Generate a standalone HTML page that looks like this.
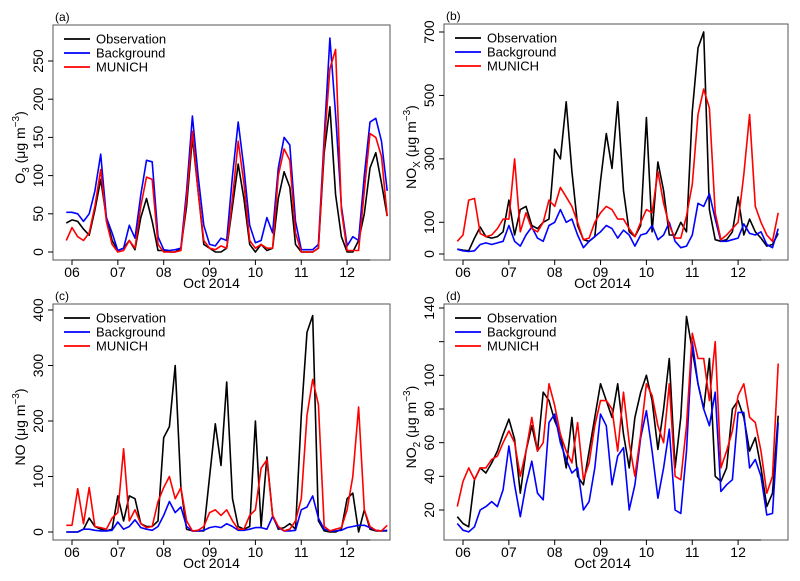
<!DOCTYPE html>
<html><head><meta charset="utf-8">
<style>
body{margin:0;background:#fff;}
svg{display:block;font-family:"Liberation Sans",Arial,sans-serif;}
</style></head>
<body>
<svg id="fig" width="800" height="581" viewBox="0 0 800 581" xmlns="http://www.w3.org/2000/svg"></svg>
<script>
// time: 5.875 + i*0.125 days (3-hourly)
const t0 = 5.875, dt = 0.125;
const dayTicks = [6,7,8,9,10,11,12];
const dayLabels = ["06","07","08","09","10","11","12"];
const seriesNames = ["Observation","Background","MUNICH"];

const o3Obs = [38, 42,40,30,22,55,95,45,15, 2,5,15,3,45,70,40,2, 2,0,0,5,60,150,80,10, 5,0,0,5,60,115,70,10, 0,10,2,5,70,105,85,10, 0,0,0,5,130,190,75,20, 0,0,15,50,110,130,90,47];
const o3Bg  = [52, 52,50,40,50,80,128,45,25, 2,5,35,18,75,120,118,20, 3,2,3,5,80,178,100,35, 10,8,18,15,100,170,110,35, 12,15,45,25,110,150,140,40, 3,3,3,10,150,280,180,60, 8,20,15,100,170,175,145,80];
const o3Mu  = [15, 32,20,15,25,60,108,40,10, 0,2,15,5,60,98,95,10, 0,0,0,2,70,158,80,15, 5,3,8,5,70,145,90,15, 5,10,5,5,100,135,120,25, 0,0,0,5,140,240,265,55, 2,2,2,80,155,150,125,47];

const noxObs = [15, 12,10,50,85,55,50,55,70, 170,60,140,150,90,80,100,110, 330,300,480,260,90,45,40,55, 230,380,270,480,200,70,55,90, 430,70,290,200,60,60,100,70, 450,650,700,140,45,40,45,70, 180,60,110,70,50,25,30,65];
const noxBg  = [15, 10,8,10,30,35,30,35,40, 90,40,25,60,85,50,40,90, 100,140,100,110,60,20,40,55, 70,90,80,50,75,60,25,60, 65,90,45,60,100,40,20,25, 60,160,150,190,110,40,40,45, 50,95,65,60,70,30,20,80];
const noxMu  = [40, 60,170,175,65,55,60,80,110, 110,300,70,130,80,70,100,170, 150,210,180,150,100,45,50,100, 130,150,140,110,110,80,55,100, 140,130,260,160,90,50,50,120, 220,440,520,460,130,45,60,80, 100,250,440,150,100,60,40,130];

const noObs = [0, 0,0,5,25,10,5,2,5, 65,20,65,60,15,10,10,20, 170,190,300,80,5,2,2,2, 100,195,120,270,60,10,5,10, 200,10,135,30,5,8,15,5, 210,360,390,20,2,0,0,5, 60,70,0,40,5,2,2,2];
const noBg  = [0, 0,0,5,5,3,2,2,3, 18,5,10,22,8,5,3,10, 30,55,35,45,10,2,2,3, 8,10,8,15,10,3,3,5, 8,8,5,28,8,2,2,3, 40,45,65,25,5,2,2,3, 8,10,12,12,8,3,2,3];
const noMu  = [12, 12,78,15,80,10,8,5,25, 35,150,20,40,15,8,10,55, 80,100,60,80,20,2,3,10, 35,40,30,40,20,5,5,30, 40,115,130,30,10,2,5,20, 60,210,275,230,10,2,5,8, 40,100,225,40,10,3,2,12];

const no2Obs = [16, 12,10,38,45,42,48,55,65, 74,62,30,55,70,55,90,85, 73,65,45,75,40,35,55,75, 95,85,75,95,65,45,75,90, 100,85,56,80,110,45,75,135, 115,95,80,110,40,37,45,80, 85,75,55,63,45,22,30,76];
const no2Bg  = [12, 8,7,10,20,22,25,22,32, 58,35,16,35,49,30,26,72, 77,60,50,42,45,20,25,45, 77,70,35,52,57,20,35,63, 79,55,27,45,68,20,18,55, 120,95,80,70,90,31,35,38, 78,78,45,50,40,17,18,72];
const no2Mu  = [22, 37,45,38,45,45,50,52,60, 67,60,40,55,75,55,60,95, 82,65,55,48,72,38,48,70, 85,85,80,55,90,60,40,65, 95,88,70,60,95,40,38,70, 125,110,110,85,120,45,55,67, 88,95,75,72,55,30,40,107];

const NS = "http://www.w3.org/2000/svg";
const svg = document.getElementById("fig");
function el(tag, attrs, parent){
  const e = document.createElementNS(NS, tag);
  for (const k in attrs) e.setAttribute(k, attrs[k]);
  (parent||svg).appendChild(e);
  return e;
}
const colors = ["#000000","#0000ff","#ff0000"];

const panels = [
  {id:"a", box:[53,25,390,260], x6:72, yMin:0, yMax:250, y0px:252, y1px:61, ticks:[0,50,100,150,200,250], labels:[0,50,100,150,200,250], sp:"O", sub:"3", data:[o3Obs,o3Bg,o3Mu]},
  {id:"b", box:[444,24,788,260], x6:463, yMin:0, yMax:700, y0px:254, y1px:32, ticks:[0,100,300,500,700], labels:[0,100,300,500,700], sp:"NO", sub:"X", data:[noxObs,noxBg,noxMu]},
  {id:"c", box:[53,304,390,540], x6:72, yMin:0, yMax:400, y0px:532, y1px:310, ticks:[0,100,200,300,400], labels:[0,100,200,300,400], sp:"NO", sub:"", data:[noObs,noBg,noMu]},
  {id:"d", box:[444,304,788,540], x6:463, yMin:20, yMax:140, y0px:510, y1px:308, ticks:[20,40,60,80,100,120,140], labels:[20,40,60,80,100,null,140], sp:"NO", sub:"2", data:[no2Obs,no2Bg,no2Mu]}
];
const dayPx = 45.85;

panels.forEach(p => {
  const g = el("g", {});
  
  
  const [L,T,R,B] = p.box;
  const xs = d => p.x6 + (d - 6) * dayPx;
  const ys = v => p.y0px + (v - p.yMin) * (p.y1px - p.y0px) / (p.yMax - p.yMin);

  // series
  const order = [0,1,2];
  order.forEach(si => {
    const arr = p.data[si];
    let d = "";
    arr.forEach((v,i) => { d += (i ? "L" : "M") + xs(t0 + i*dt).toFixed(1) + "," + ys(v).toFixed(1); });
    const path = el("path", {d:d, fill:"none", stroke:colors[si], "stroke-width":"1.6", "stroke-linejoin":"round"}, g);
    
    
  });

  const box = el("rect", {x:L, y:T, width:R-L, height:B-T, fill:"none", stroke:"#555", "stroke-width":"1"}, g);
  
  

  const pl = el("text", {x:L+2, y:T-4, "font-size":"12", fill:"#000"}, g);
  pl.textContent = "(" + p.id + ")";
  
  

  // x axis
  const xa = el("g", {}, g);
  
  
  el("line", {x1:xs(6), x2:xs(12.5), y1:B, y2:B, stroke:"#000"}, xa);
  dayTicks.forEach((d,i) => {
    el("line", {x1:xs(d), x2:xs(d), y1:B, y2:B+5, stroke:"#000"}, xa);
    const tl = el("text", {x:xs(d), y:B+17, "font-size":"14", "text-anchor":"middle"}, xa);
    tl.textContent = dayLabels[i];
    
    
  });
  const xt = el("text", {x:(xs(6)+xs(12))/2 + 2, y:B+28, "font-size":"14", "text-anchor":"middle"}, g);
  xt.textContent = "Oct 2014";
  
  

  // y axis
  const ya = el("g", {}, g);
  
  
  p.ticks.forEach((v,i) => {
    el("line", {x1:L-5, x2:L, y1:ys(v), y2:ys(v), stroke:"#000"}, ya);
    if (p.labels[i] !== null) {
      const tx = L - 10, ty = ys(v);
      const tl = el("text", {x:tx, y:ty, "font-size":"14", "text-anchor":"middle", transform:"rotate(-90 "+tx+" "+ty+")"}, ya);
      tl.textContent = String(p.labels[i]);
      
      
    }
  });
  const yx = L - 28, yy = (T + B) / 2 + 5;
  const yt = el("text", {x:yx, y:yy, "font-size":"14", "text-anchor":"middle", transform:"rotate(-90 "+yx+" "+yy+")"}, g);
  
  
  const s1 = document.createElementNS(NS, "tspan"); s1.textContent = p.sp; yt.appendChild(s1);
  if (p.sub) {
    const s2 = document.createElementNS(NS, "tspan");
    s2.setAttribute("font-size","10"); s2.setAttribute("dy","4"); s2.textContent = p.sub; yt.appendChild(s2);
    const s3 = document.createElementNS(NS, "tspan"); s3.setAttribute("dy","-4"); s3.textContent = " (\u03bcg m"; yt.appendChild(s3);
  } else {
    const s3 = document.createElementNS(NS, "tspan"); s3.textContent = " (\u03bcg m"; yt.appendChild(s3);
  }
  const s4 = document.createElementNS(NS, "tspan"); s4.setAttribute("font-size","10"); s4.setAttribute("dy","-6"); s4.textContent = "\u22123"; yt.appendChild(s4);
  const s5 = document.createElementNS(NS, "tspan"); s5.setAttribute("dy","6"); s5.textContent = ")"; yt.appendChild(s5);

  // legend
  const lg = el("g", {}, g);
  
  
  seriesNames.forEach((n,i) => {
    const ly = T + 14 + i*14;
    const e = el("g", {}, lg);
    
    
    el("line", {x1:L+11, x2:L+37, y1:ly, y2:ly, stroke:colors[i], "stroke-width":"1.8"}, e);
    const tx = el("text", {x:L+43, y:ly+4.5, "font-size":"13"}, e);
    tx.textContent = n;
  });
});
</script>
</body></html>
